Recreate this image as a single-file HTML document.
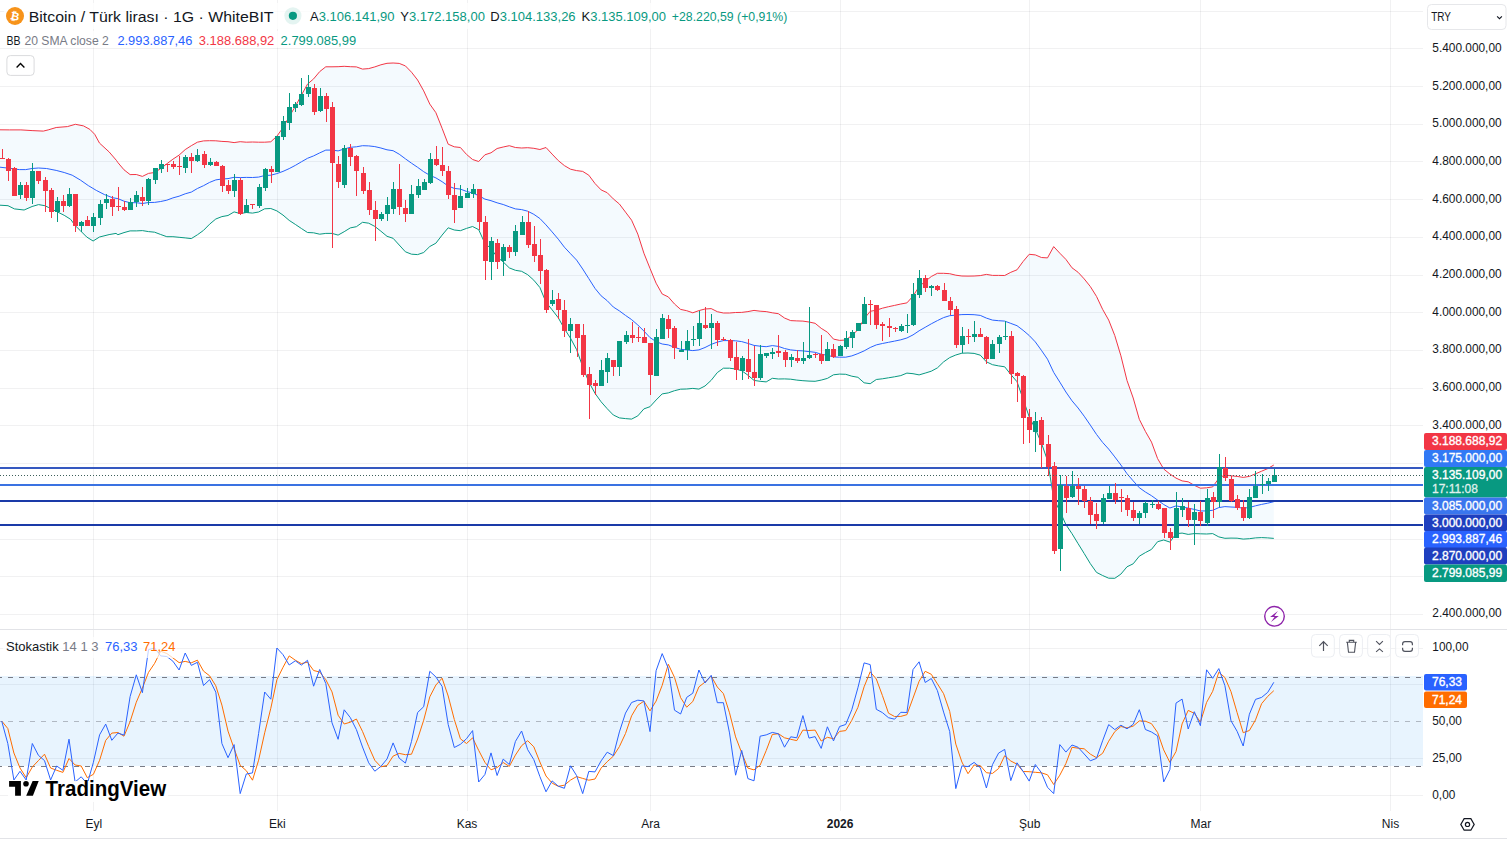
<!DOCTYPE html>
<html><head><meta charset="utf-8"><style>
html,body{margin:0;padding:0;background:#fff;}
body{width:1507px;height:841px;overflow:hidden;}
svg{display:block;font-family:"Liberation Sans", sans-serif;}
</style></head><body>
<svg width="1507" height="841" viewBox="0 0 1507 841" shape-rendering="crispEdges">
<rect width="1507" height="841" fill="#fff"/>
<g>
<g fill="#2a2e39" fill-opacity="0.065">
<rect x="0" y="11" width="1423" height="1"/>
<rect x="0" y="48" width="1423" height="1"/>
<rect x="0" y="86" width="1423" height="1"/>
<rect x="0" y="124" width="1423" height="1"/>
<rect x="0" y="161" width="1423" height="1"/>
<rect x="0" y="199" width="1423" height="1"/>
<rect x="0" y="237" width="1423" height="1"/>
<rect x="0" y="275" width="1423" height="1"/>
<rect x="0" y="312" width="1423" height="1"/>
<rect x="0" y="350" width="1423" height="1"/>
<rect x="0" y="388" width="1423" height="1"/>
<rect x="0" y="425" width="1423" height="1"/>
<rect x="0" y="463" width="1423" height="1"/>
<rect x="0" y="501" width="1423" height="1"/>
<rect x="0" y="539" width="1423" height="1"/>
<rect x="0" y="576" width="1423" height="1"/>
<rect x="0" y="614" width="1423" height="1"/>
<rect x="93" y="0" width="1" height="629"/>
<rect x="93" y="630" width="1" height="181"/>
<rect x="277" y="0" width="1" height="629"/>
<rect x="277" y="630" width="1" height="181"/>
<rect x="467" y="0" width="1" height="629"/>
<rect x="467" y="630" width="1" height="181"/>
<rect x="650" y="0" width="1" height="629"/>
<rect x="650" y="630" width="1" height="181"/>
<rect x="840" y="0" width="1" height="629"/>
<rect x="840" y="630" width="1" height="181"/>
<rect x="1029" y="0" width="1" height="629"/>
<rect x="1029" y="630" width="1" height="181"/>
<rect x="1200" y="0" width="1" height="629"/>
<rect x="1200" y="630" width="1" height="181"/>
<rect x="1390" y="0" width="1" height="629"/>
<rect x="1390" y="630" width="1" height="181"/>
<rect x="0" y="648" width="1423" height="1"/>
<rect x="0" y="684" width="1423" height="1"/>
<rect x="0" y="758" width="1423" height="1"/>
<rect x="0" y="795" width="1423" height="1"/>
</g>
<polygon shape-rendering="auto" points="0.0,129.8 9.6,129.9 20.9,129.9 32.1,130.6 43.3,131.1 48.2,129.9 56.2,127.5 67.4,126.6 75.4,124.3 83.5,125.9 89.9,129.4 94.7,134.3 99.5,143.1 109.1,151.9 116.5,160.5 117.9,162.6 124.0,169.8 130.1,174.6 136.3,174.5 142.4,176.4 148.5,173.4 154.6,172.5 160.7,168.6 166.8,163.8 172.9,159.2 179.1,155.1 185.2,149.6 191.3,145.7 197.4,142.2 203.5,140.9 209.6,140.7 215.8,140.8 221.9,141.4 228.0,141.7 234.1,142.6 240.2,141.7 246.3,142.2 252.5,142.0 258.6,142.2 264.7,142.2 270.8,141.8 276.9,136.2 283.0,127.7 289.2,116.7 295.3,106.4 301.4,95.2 307.5,84.1 313.6,78.9 319.7,71.6 325.8,66.8 332.0,66.8 338.1,66.7 344.2,66.3 350.3,66.7 356.4,66.9 362.5,69.1 368.7,68.6 374.8,66.9 380.9,64.8 387.0,63.3 393.1,63.0 399.2,63.4 405.4,65.9 411.5,72.2 417.6,80.0 423.7,90.9 429.8,104.1 435.9,112.7 442.1,128.3 448.2,144.2 454.3,146.8 460.4,147.5 466.5,154.4 472.6,159.5 478.7,161.5 484.9,154.8 491.0,152.8 497.1,148.5 503.2,147.0 509.3,145.7 515.4,147.5 521.6,148.0 527.7,147.7 533.8,148.3 539.9,149.5 546.0,147.5 552.1,154.1 558.3,160.6 564.4,165.6 570.5,169.2 576.6,170.6 582.7,171.4 588.8,175.2 595.0,183.5 601.1,189.9 607.2,192.7 613.3,198.9 619.4,204.0 625.5,212.1 631.6,220.2 637.8,234.1 643.9,253.2 650.0,268.4 656.1,283.2 662.2,294.0 668.3,296.9 674.5,304.0 680.6,309.4 686.7,310.7 692.8,312.8 698.9,310.6 705.0,309.0 711.2,308.6 717.3,311.7 723.4,313.0 729.5,313.0 735.6,312.5 741.7,312.4 747.9,311.6 754.0,310.4 760.1,311.2 766.2,311.6 772.3,312.8 778.4,313.7 784.5,318.0 790.7,320.6 796.8,320.9 802.9,321.1 809.0,322.0 815.1,323.3 821.2,328.3 827.4,332.2 833.5,339.1 839.6,340.4 845.7,340.0 851.8,335.5 857.9,329.8 864.1,318.9 870.2,311.3 876.3,310.2 882.4,308.2 888.5,306.7 894.6,305.4 900.8,304.0 906.9,302.9 913.0,296.1 919.1,286.6 925.2,281.4 931.3,276.5 937.4,273.3 943.6,273.3 949.7,273.7 955.8,275.2 961.9,276.0 968.0,276.1 974.1,276.0 980.3,275.6 986.4,274.4 992.5,275.4 998.6,275.4 1004.7,275.5 1010.8,272.3 1017.0,269.8 1023.1,261.5 1029.2,254.3 1035.3,254.9 1041.4,257.5 1047.5,257.9 1053.7,246.6 1059.8,253.2 1065.9,259.4 1072.0,267.8 1078.1,272.3 1084.2,278.9 1090.3,286.5 1096.5,296.4 1102.6,309.3 1108.7,320.1 1114.8,335.6 1120.9,355.8 1127.0,380.5 1133.2,398.0 1139.3,419.3 1145.4,431.4 1151.5,442.1 1157.6,458.6 1163.7,469.0 1169.9,474.0 1176.0,478.1 1182.1,480.9 1188.2,481.8 1194.3,485.3 1200.4,488.2 1206.6,487.8 1212.7,486.9 1218.8,478.3 1224.9,474.9 1231.0,475.8 1237.1,476.4 1243.2,477.4 1249.4,476.4 1255.5,473.8 1261.6,471.2 1267.7,468.6 1273.8,465.0 1273.8,538.4 1267.7,537.9 1261.6,537.6 1255.5,537.9 1249.4,538.7 1243.2,539.1 1237.1,538.2 1231.0,538.1 1224.9,538.3 1218.8,536.9 1212.7,533.6 1206.6,534.0 1200.4,533.8 1194.3,533.6 1188.2,534.4 1182.1,533.1 1176.0,533.7 1169.9,542.1 1163.7,540.0 1157.6,541.7 1151.5,549.4 1145.4,552.6 1139.3,556.2 1133.2,563.8 1127.0,566.8 1120.9,574.1 1114.8,578.3 1108.7,578.2 1102.6,575.5 1096.5,572.4 1090.3,563.6 1084.2,553.5 1078.1,543.7 1072.0,533.7 1065.9,524.6 1059.8,511.1 1053.7,498.3 1047.5,460.5 1041.4,443.0 1035.3,428.9 1029.2,416.8 1023.1,399.1 1017.0,381.7 1010.8,374.5 1004.7,366.8 998.6,365.9 992.5,364.7 986.4,361.8 980.3,355.2 974.1,353.4 968.0,353.0 961.9,353.2 955.8,355.0 949.7,357.6 943.6,361.9 937.4,367.9 931.3,371.2 925.2,373.1 919.1,374.9 913.0,373.7 906.9,373.1 900.8,375.6 894.6,376.8 888.5,377.8 882.4,378.8 876.3,379.5 870.2,383.7 864.1,382.8 857.9,377.3 851.8,376.2 845.7,374.3 839.6,374.1 833.5,374.8 827.4,378.4 821.2,380.1 815.1,381.3 809.0,381.1 802.9,380.7 796.8,380.1 790.7,379.2 784.5,378.9 778.4,379.0 772.3,378.3 766.2,381.9 760.1,381.3 754.0,380.4 747.9,375.2 741.7,370.7 735.6,369.0 729.5,368.2 723.4,368.2 717.3,372.6 711.2,380.3 705.0,386.0 698.9,389.1 692.8,388.4 686.7,389.0 680.6,389.2 674.5,390.7 668.3,392.9 662.2,393.9 656.1,400.0 650.0,406.7 643.9,408.9 637.8,415.9 631.6,419.1 625.5,418.6 619.4,417.9 613.3,415.0 607.2,408.7 601.1,401.8 595.0,393.3 588.8,382.0 582.7,366.6 576.6,349.6 570.5,338.2 564.4,328.8 558.3,317.8 552.1,309.8 546.0,302.3 539.9,287.5 533.8,280.2 527.7,274.7 521.6,271.3 515.4,270.3 509.3,267.9 503.2,261.9 497.1,257.1 491.0,248.5 484.9,243.4 478.7,229.7 472.6,226.5 466.5,228.4 460.4,230.7 454.3,230.0 448.2,227.8 442.1,235.1 435.9,243.2 429.8,246.5 423.7,252.5 417.6,254.6 411.5,254.2 405.4,251.8 399.2,245.0 393.1,238.3 387.0,236.3 380.9,231.2 374.8,226.4 368.7,223.2 362.5,222.3 356.4,226.7 350.3,227.9 344.2,231.7 338.1,235.1 332.0,233.4 325.8,233.4 319.7,234.2 313.6,232.8 307.5,232.5 301.4,228.5 295.3,224.4 289.2,220.4 283.0,215.1 276.9,210.9 270.8,208.5 264.7,208.8 258.6,212.0 252.5,213.1 246.3,212.5 240.2,213.6 234.1,211.9 228.0,215.5 221.9,216.6 215.8,219.0 209.6,224.2 203.5,230.4 197.4,234.8 191.3,238.6 185.2,237.9 179.1,237.3 172.9,236.7 166.8,236.7 160.7,234.5 154.6,232.2 148.5,231.6 142.4,230.6 136.3,230.9 130.1,230.9 124.0,232.6 117.9,234.7 116.0,233.4 109.1,234.6 99.5,237.0 93.1,241.0 86.7,237.0 80.3,230.6 75.4,225.8 70.6,219.3 64.2,215.3 56.2,211.3 48.2,207.3 44.9,205.7 38.5,204.6 32.1,206.5 24.1,210.0 14.4,208.9 8.0,205.7 0.0,205.2" fill="#2196f3" fill-opacity="0.05"/>
<polyline shape-rendering="auto" points="0.0,129.8 9.6,129.9 20.9,129.9 32.1,130.6 43.3,131.1 48.2,129.9 56.2,127.5 67.4,126.6 75.4,124.3 83.5,125.9 89.9,129.4 94.7,134.3 99.5,143.1 109.1,151.9 116.5,160.5 117.9,162.6 124.0,169.8 130.1,174.6 136.3,174.5 142.4,176.4 148.5,173.4 154.6,172.5 160.7,168.6 166.8,163.8 172.9,159.2 179.1,155.1 185.2,149.6 191.3,145.7 197.4,142.2 203.5,140.9 209.6,140.7 215.8,140.8 221.9,141.4 228.0,141.7 234.1,142.6 240.2,141.7 246.3,142.2 252.5,142.0 258.6,142.2 264.7,142.2 270.8,141.8 276.9,136.2 283.0,127.7 289.2,116.7 295.3,106.4 301.4,95.2 307.5,84.1 313.6,78.9 319.7,71.6 325.8,66.8 332.0,66.8 338.1,66.7 344.2,66.3 350.3,66.7 356.4,66.9 362.5,69.1 368.7,68.6 374.8,66.9 380.9,64.8 387.0,63.3 393.1,63.0 399.2,63.4 405.4,65.9 411.5,72.2 417.6,80.0 423.7,90.9 429.8,104.1 435.9,112.7 442.1,128.3 448.2,144.2 454.3,146.8 460.4,147.5 466.5,154.4 472.6,159.5 478.7,161.5 484.9,154.8 491.0,152.8 497.1,148.5 503.2,147.0 509.3,145.7 515.4,147.5 521.6,148.0 527.7,147.7 533.8,148.3 539.9,149.5 546.0,147.5 552.1,154.1 558.3,160.6 564.4,165.6 570.5,169.2 576.6,170.6 582.7,171.4 588.8,175.2 595.0,183.5 601.1,189.9 607.2,192.7 613.3,198.9 619.4,204.0 625.5,212.1 631.6,220.2 637.8,234.1 643.9,253.2 650.0,268.4 656.1,283.2 662.2,294.0 668.3,296.9 674.5,304.0 680.6,309.4 686.7,310.7 692.8,312.8 698.9,310.6 705.0,309.0 711.2,308.6 717.3,311.7 723.4,313.0 729.5,313.0 735.6,312.5 741.7,312.4 747.9,311.6 754.0,310.4 760.1,311.2 766.2,311.6 772.3,312.8 778.4,313.7 784.5,318.0 790.7,320.6 796.8,320.9 802.9,321.1 809.0,322.0 815.1,323.3 821.2,328.3 827.4,332.2 833.5,339.1 839.6,340.4 845.7,340.0 851.8,335.5 857.9,329.8 864.1,318.9 870.2,311.3 876.3,310.2 882.4,308.2 888.5,306.7 894.6,305.4 900.8,304.0 906.9,302.9 913.0,296.1 919.1,286.6 925.2,281.4 931.3,276.5 937.4,273.3 943.6,273.3 949.7,273.7 955.8,275.2 961.9,276.0 968.0,276.1 974.1,276.0 980.3,275.6 986.4,274.4 992.5,275.4 998.6,275.4 1004.7,275.5 1010.8,272.3 1017.0,269.8 1023.1,261.5 1029.2,254.3 1035.3,254.9 1041.4,257.5 1047.5,257.9 1053.7,246.6 1059.8,253.2 1065.9,259.4 1072.0,267.8 1078.1,272.3 1084.2,278.9 1090.3,286.5 1096.5,296.4 1102.6,309.3 1108.7,320.1 1114.8,335.6 1120.9,355.8 1127.0,380.5 1133.2,398.0 1139.3,419.3 1145.4,431.4 1151.5,442.1 1157.6,458.6 1163.7,469.0 1169.9,474.0 1176.0,478.1 1182.1,480.9 1188.2,481.8 1194.3,485.3 1200.4,488.2 1206.6,487.8 1212.7,486.9 1218.8,478.3 1224.9,474.9 1231.0,475.8 1237.1,476.4 1243.2,477.4 1249.4,476.4 1255.5,473.8 1261.6,471.2 1267.7,468.6 1273.8,465.0" fill="none" stroke="#f23645" stroke-width="1"/>
<polyline shape-rendering="auto" points="0.0,167.2 9.6,168.3 19.3,169.6 25.7,169.6 32.1,168.5 38.5,168.0 46.5,168.5 56.2,170.4 64.2,172.5 72.2,175.2 80.3,180.0 88.3,185.6 96.3,190.4 104.3,194.5 112.4,197.7 117.9,198.6 124.0,201.2 130.1,202.7 136.3,202.7 142.4,203.5 148.5,202.5 154.6,202.4 160.7,201.5 166.8,200.2 172.9,197.9 179.1,196.2 185.2,193.8 191.3,192.1 197.4,188.5 203.5,185.7 209.6,182.4 215.8,179.9 221.9,179.0 228.0,178.6 234.1,177.3 240.2,177.6 246.3,177.4 252.5,177.5 258.6,177.1 264.7,175.5 270.8,175.2 276.9,173.6 283.0,171.4 289.2,168.6 295.3,165.4 301.4,161.8 307.5,158.3 313.6,155.9 319.7,152.9 325.8,150.1 332.0,150.1 338.1,150.9 344.2,149.0 350.3,147.3 356.4,146.8 362.5,145.7 368.7,145.9 374.8,146.6 380.9,148.0 387.0,149.8 393.1,150.7 399.2,154.2 405.4,158.8 411.5,163.2 417.6,167.3 423.7,171.7 429.8,175.3 435.9,177.9 442.1,181.7 448.2,186.0 454.3,188.4 460.4,189.1 466.5,191.4 472.6,193.0 478.7,195.6 484.9,199.1 491.0,200.7 497.1,202.8 503.2,204.5 509.3,206.8 515.4,208.9 521.6,209.6 527.7,211.2 533.8,214.3 539.9,218.5 546.0,224.9 552.1,231.9 558.3,239.2 564.4,247.2 570.5,253.7 576.6,260.1 582.7,269.0 588.8,278.6 595.0,288.4 601.1,295.8 607.2,300.7 613.3,307.0 619.4,310.9 625.5,315.4 631.6,319.6 637.8,325.0 643.9,331.0 650.0,337.6 656.1,341.6 662.2,344.0 668.3,344.9 674.5,347.3 680.6,349.3 686.7,349.9 692.8,350.6 698.9,349.9 705.0,347.5 711.2,344.4 717.3,342.1 723.4,340.6 729.5,340.6 735.6,340.8 741.7,341.6 747.9,343.4 754.0,345.4 760.1,346.2 766.2,346.7 772.3,345.6 778.4,346.4 784.5,348.5 790.7,349.9 796.8,350.5 802.9,350.9 809.0,351.6 815.1,352.3 821.2,354.2 827.4,355.3 833.5,356.9 839.6,357.2 845.7,357.2 851.8,355.9 857.9,353.6 864.1,350.9 870.2,347.5 876.3,344.9 882.4,343.5 888.5,342.3 894.6,341.1 900.8,339.8 906.9,338.0 913.0,334.9 919.1,330.8 925.2,327.3 931.3,323.8 937.4,320.6 943.6,317.6 949.7,315.7 955.8,315.1 961.9,314.6 968.0,314.5 974.1,314.7 980.3,315.4 986.4,318.1 992.5,320.1 998.6,320.7 1004.7,321.1 1010.8,323.4 1017.0,325.7 1023.1,330.3 1029.2,335.5 1035.3,341.9 1041.4,350.3 1047.5,359.2 1053.7,372.4 1059.8,382.1 1065.9,392.0 1072.0,400.8 1078.1,408.0 1084.2,416.2 1090.3,425.1 1096.5,434.4 1102.6,442.4 1108.7,449.1 1114.8,456.9 1120.9,465.0 1127.0,473.7 1133.2,480.9 1139.3,487.7 1145.4,492.0 1151.5,495.7 1157.6,500.1 1163.7,504.5 1169.9,508.0 1176.0,505.9 1182.1,507.0 1188.2,508.1 1194.3,509.4 1200.4,511.0 1206.6,510.9 1212.7,510.3 1218.8,507.6 1224.9,506.6 1231.0,507.0 1237.1,507.3 1243.2,508.2 1249.4,507.5 1255.5,505.8 1261.6,504.4 1267.7,503.2 1273.8,501.7" fill="none" stroke="#2962ff" stroke-width="1"/>
<polyline shape-rendering="auto" points="0.0,205.2 8.0,205.7 14.4,208.9 24.1,210.0 32.1,206.5 38.5,204.6 44.9,205.7 48.2,207.3 56.2,211.3 64.2,215.3 70.6,219.3 75.4,225.8 80.3,230.6 86.7,237.0 93.1,241.0 99.5,237.0 109.1,234.6 116.0,233.4 117.9,234.7 124.0,232.6 130.1,230.9 136.3,230.9 142.4,230.6 148.5,231.6 154.6,232.2 160.7,234.5 166.8,236.7 172.9,236.7 179.1,237.3 185.2,237.9 191.3,238.6 197.4,234.8 203.5,230.4 209.6,224.2 215.8,219.0 221.9,216.6 228.0,215.5 234.1,211.9 240.2,213.6 246.3,212.5 252.5,213.1 258.6,212.0 264.7,208.8 270.8,208.5 276.9,210.9 283.0,215.1 289.2,220.4 295.3,224.4 301.4,228.5 307.5,232.5 313.6,232.8 319.7,234.2 325.8,233.4 332.0,233.4 338.1,235.1 344.2,231.7 350.3,227.9 356.4,226.7 362.5,222.3 368.7,223.2 374.8,226.4 380.9,231.2 387.0,236.3 393.1,238.3 399.2,245.0 405.4,251.8 411.5,254.2 417.6,254.6 423.7,252.5 429.8,246.5 435.9,243.2 442.1,235.1 448.2,227.8 454.3,230.0 460.4,230.7 466.5,228.4 472.6,226.5 478.7,229.7 484.9,243.4 491.0,248.5 497.1,257.1 503.2,261.9 509.3,267.9 515.4,270.3 521.6,271.3 527.7,274.7 533.8,280.2 539.9,287.5 546.0,302.3 552.1,309.8 558.3,317.8 564.4,328.8 570.5,338.2 576.6,349.6 582.7,366.6 588.8,382.0 595.0,393.3 601.1,401.8 607.2,408.7 613.3,415.0 619.4,417.9 625.5,418.6 631.6,419.1 637.8,415.9 643.9,408.9 650.0,406.7 656.1,400.0 662.2,393.9 668.3,392.9 674.5,390.7 680.6,389.2 686.7,389.0 692.8,388.4 698.9,389.1 705.0,386.0 711.2,380.3 717.3,372.6 723.4,368.2 729.5,368.2 735.6,369.0 741.7,370.7 747.9,375.2 754.0,380.4 760.1,381.3 766.2,381.9 772.3,378.3 778.4,379.0 784.5,378.9 790.7,379.2 796.8,380.1 802.9,380.7 809.0,381.1 815.1,381.3 821.2,380.1 827.4,378.4 833.5,374.8 839.6,374.1 845.7,374.3 851.8,376.2 857.9,377.3 864.1,382.8 870.2,383.7 876.3,379.5 882.4,378.8 888.5,377.8 894.6,376.8 900.8,375.6 906.9,373.1 913.0,373.7 919.1,374.9 925.2,373.1 931.3,371.2 937.4,367.9 943.6,361.9 949.7,357.6 955.8,355.0 961.9,353.2 968.0,353.0 974.1,353.4 980.3,355.2 986.4,361.8 992.5,364.7 998.6,365.9 1004.7,366.8 1010.8,374.5 1017.0,381.7 1023.1,399.1 1029.2,416.8 1035.3,428.9 1041.4,443.0 1047.5,460.5 1053.7,498.3 1059.8,511.1 1065.9,524.6 1072.0,533.7 1078.1,543.7 1084.2,553.5 1090.3,563.6 1096.5,572.4 1102.6,575.5 1108.7,578.2 1114.8,578.3 1120.9,574.1 1127.0,566.8 1133.2,563.8 1139.3,556.2 1145.4,552.6 1151.5,549.4 1157.6,541.7 1163.7,540.0 1169.9,542.1 1176.0,533.7 1182.1,533.1 1188.2,534.4 1194.3,533.6 1200.4,533.8 1206.6,534.0 1212.7,533.6 1218.8,536.9 1224.9,538.3 1231.0,538.1 1237.1,538.2 1243.2,539.1 1249.4,538.7 1255.5,537.9 1261.6,537.6 1267.7,537.9 1273.8,538.4" fill="none" stroke="#089981" stroke-width="1"/>
<rect x="0" y="467" width="1423" height="2" fill="#3558c0"/>
<rect x="0" y="484" width="1423" height="2" fill="#3a72e2"/>
<rect x="0" y="500" width="1423" height="2" fill="#1a3aa8"/>
<rect x="0" y="524" width="1423" height="2" fill="#1a3aa8"/>
<rect x="2" y="149" width="1" height="10" fill="#f23645"/>
<rect x="0" y="158" width="5" height="1" fill="#f23645"/>
<rect x="8" y="158" width="1" height="23" fill="#f23645"/>
<rect x="6" y="159" width="5" height="12" fill="#f23645"/>
<rect x="14" y="167" width="1" height="29" fill="#f23645"/>
<rect x="12" y="168" width="5" height="28" fill="#f23645"/>
<rect x="20" y="182" width="1" height="17" fill="#089981"/>
<rect x="18" y="185" width="5" height="10" fill="#089981"/>
<rect x="26" y="182" width="1" height="19" fill="#f23645"/>
<rect x="24" y="185" width="5" height="13" fill="#f23645"/>
<rect x="32" y="163" width="1" height="41" fill="#089981"/>
<rect x="30" y="171" width="5" height="27" fill="#089981"/>
<rect x="38" y="171" width="1" height="13" fill="#f23645"/>
<rect x="36" y="171" width="5" height="10" fill="#f23645"/>
<rect x="45" y="177" width="1" height="35" fill="#f23645"/>
<rect x="43" y="180" width="5" height="11" fill="#f23645"/>
<rect x="51" y="188" width="1" height="30" fill="#f23645"/>
<rect x="49" y="190" width="5" height="22" fill="#f23645"/>
<rect x="57" y="197" width="1" height="25" fill="#089981"/>
<rect x="55" y="201" width="5" height="11" fill="#089981"/>
<rect x="63" y="195" width="1" height="17" fill="#f23645"/>
<rect x="61" y="201" width="5" height="5" fill="#f23645"/>
<rect x="69" y="188" width="1" height="19" fill="#089981"/>
<rect x="67" y="194" width="5" height="12" fill="#089981"/>
<rect x="75" y="194" width="1" height="38" fill="#f23645"/>
<rect x="73" y="194" width="5" height="32" fill="#f23645"/>
<rect x="81" y="221" width="1" height="11" fill="#089981"/>
<rect x="79" y="222" width="5" height="4" fill="#089981"/>
<rect x="87" y="216" width="1" height="10" fill="#f23645"/>
<rect x="85" y="220" width="5" height="6" fill="#f23645"/>
<rect x="93" y="213" width="1" height="19" fill="#089981"/>
<rect x="91" y="217" width="5" height="9" fill="#089981"/>
<rect x="100" y="200" width="1" height="25" fill="#089981"/>
<rect x="98" y="204" width="5" height="14" fill="#089981"/>
<rect x="106" y="194" width="1" height="15" fill="#089981"/>
<rect x="104" y="199" width="5" height="4" fill="#089981"/>
<rect x="112" y="196" width="1" height="20" fill="#f23645"/>
<rect x="110" y="199" width="5" height="8" fill="#f23645"/>
<rect x="118" y="187" width="1" height="24" fill="#f23645"/>
<rect x="116" y="206" width="5" height="1" fill="#f23645"/>
<rect x="124" y="201" width="1" height="10" fill="#f23645"/>
<rect x="122" y="207" width="5" height="3" fill="#f23645"/>
<rect x="130" y="198" width="1" height="12" fill="#089981"/>
<rect x="128" y="202" width="5" height="8" fill="#089981"/>
<rect x="136" y="191" width="1" height="16" fill="#089981"/>
<rect x="134" y="195" width="5" height="7" fill="#089981"/>
<rect x="142" y="187" width="1" height="19" fill="#f23645"/>
<rect x="140" y="197" width="5" height="4" fill="#f23645"/>
<rect x="148" y="178" width="1" height="27" fill="#089981"/>
<rect x="146" y="179" width="5" height="22" fill="#089981"/>
<rect x="155" y="168" width="1" height="16" fill="#089981"/>
<rect x="153" y="168" width="5" height="12" fill="#089981"/>
<rect x="161" y="160" width="1" height="13" fill="#089981"/>
<rect x="159" y="164" width="5" height="5" fill="#089981"/>
<rect x="167" y="164" width="1" height="8" fill="#f23645"/>
<rect x="165" y="164" width="5" height="1" fill="#f23645"/>
<rect x="173" y="161" width="1" height="8" fill="#f23645"/>
<rect x="171" y="164" width="5" height="3" fill="#f23645"/>
<rect x="179" y="156" width="1" height="19" fill="#f23645"/>
<rect x="177" y="166" width="5" height="1" fill="#f23645"/>
<rect x="185" y="155" width="1" height="18" fill="#089981"/>
<rect x="183" y="157" width="5" height="11" fill="#089981"/>
<rect x="191" y="153" width="1" height="20" fill="#f23645"/>
<rect x="189" y="157" width="5" height="4" fill="#f23645"/>
<rect x="197" y="149" width="1" height="13" fill="#089981"/>
<rect x="195" y="155" width="5" height="6" fill="#089981"/>
<rect x="204" y="151" width="1" height="17" fill="#f23645"/>
<rect x="202" y="154" width="5" height="11" fill="#f23645"/>
<rect x="210" y="158" width="1" height="8" fill="#089981"/>
<rect x="208" y="162" width="5" height="3" fill="#089981"/>
<rect x="216" y="161" width="1" height="5" fill="#f23645"/>
<rect x="214" y="162" width="5" height="4" fill="#f23645"/>
<rect x="222" y="165" width="1" height="27" fill="#f23645"/>
<rect x="220" y="166" width="5" height="20" fill="#f23645"/>
<rect x="228" y="180" width="1" height="14" fill="#f23645"/>
<rect x="226" y="185" width="5" height="6" fill="#f23645"/>
<rect x="234" y="174" width="1" height="23" fill="#089981"/>
<rect x="232" y="180" width="5" height="11" fill="#089981"/>
<rect x="240" y="178" width="1" height="37" fill="#f23645"/>
<rect x="238" y="180" width="5" height="34" fill="#f23645"/>
<rect x="246" y="199" width="1" height="14" fill="#089981"/>
<rect x="244" y="205" width="5" height="8" fill="#089981"/>
<rect x="252" y="204" width="1" height="5" fill="#f23645"/>
<rect x="250" y="204" width="5" height="1" fill="#f23645"/>
<rect x="259" y="184" width="1" height="24" fill="#089981"/>
<rect x="257" y="187" width="5" height="19" fill="#089981"/>
<rect x="265" y="168" width="1" height="23" fill="#089981"/>
<rect x="263" y="169" width="5" height="19" fill="#089981"/>
<rect x="271" y="166" width="1" height="17" fill="#f23645"/>
<rect x="269" y="169" width="5" height="3" fill="#f23645"/>
<rect x="277" y="136" width="1" height="36" fill="#089981"/>
<rect x="275" y="136" width="5" height="36" fill="#089981"/>
<rect x="283" y="116" width="1" height="24" fill="#089981"/>
<rect x="281" y="121" width="5" height="16" fill="#089981"/>
<rect x="289" y="93" width="1" height="37" fill="#089981"/>
<rect x="287" y="107" width="5" height="16" fill="#089981"/>
<rect x="295" y="102" width="1" height="10" fill="#089981"/>
<rect x="293" y="104" width="5" height="4" fill="#089981"/>
<rect x="301" y="78" width="1" height="28" fill="#089981"/>
<rect x="299" y="94" width="5" height="11" fill="#089981"/>
<rect x="308" y="75" width="1" height="22" fill="#089981"/>
<rect x="306" y="87" width="5" height="7" fill="#089981"/>
<rect x="314" y="84" width="1" height="31" fill="#f23645"/>
<rect x="312" y="88" width="5" height="24" fill="#f23645"/>
<rect x="320" y="88" width="1" height="24" fill="#089981"/>
<rect x="318" y="96" width="5" height="15" fill="#089981"/>
<rect x="326" y="93" width="1" height="29" fill="#f23645"/>
<rect x="324" y="96" width="5" height="13" fill="#f23645"/>
<rect x="332" y="102" width="1" height="146" fill="#f23645"/>
<rect x="330" y="107" width="5" height="56" fill="#f23645"/>
<rect x="338" y="156" width="1" height="32" fill="#f23645"/>
<rect x="336" y="164" width="5" height="18" fill="#f23645"/>
<rect x="344" y="145" width="1" height="43" fill="#089981"/>
<rect x="342" y="148" width="5" height="37" fill="#089981"/>
<rect x="350" y="144" width="1" height="22" fill="#f23645"/>
<rect x="348" y="148" width="5" height="9" fill="#f23645"/>
<rect x="356" y="155" width="1" height="41" fill="#f23645"/>
<rect x="354" y="156" width="5" height="15" fill="#f23645"/>
<rect x="363" y="167" width="1" height="27" fill="#f23645"/>
<rect x="361" y="173" width="5" height="18" fill="#f23645"/>
<rect x="369" y="182" width="1" height="33" fill="#f23645"/>
<rect x="367" y="190" width="5" height="20" fill="#f23645"/>
<rect x="375" y="201" width="1" height="40" fill="#f23645"/>
<rect x="373" y="210" width="5" height="9" fill="#f23645"/>
<rect x="381" y="212" width="1" height="9" fill="#089981"/>
<rect x="379" y="214" width="5" height="5" fill="#089981"/>
<rect x="387" y="197" width="1" height="24" fill="#089981"/>
<rect x="385" y="205" width="5" height="9" fill="#089981"/>
<rect x="393" y="182" width="1" height="32" fill="#089981"/>
<rect x="391" y="189" width="5" height="20" fill="#089981"/>
<rect x="399" y="164" width="1" height="51" fill="#f23645"/>
<rect x="397" y="189" width="5" height="18" fill="#f23645"/>
<rect x="405" y="200" width="1" height="22" fill="#f23645"/>
<rect x="403" y="208" width="5" height="6" fill="#f23645"/>
<rect x="411" y="185" width="1" height="29" fill="#089981"/>
<rect x="409" y="194" width="5" height="20" fill="#089981"/>
<rect x="418" y="179" width="1" height="19" fill="#089981"/>
<rect x="416" y="186" width="5" height="9" fill="#089981"/>
<rect x="424" y="179" width="1" height="11" fill="#089981"/>
<rect x="422" y="182" width="5" height="8" fill="#089981"/>
<rect x="430" y="153" width="1" height="31" fill="#089981"/>
<rect x="428" y="159" width="5" height="24" fill="#089981"/>
<rect x="436" y="146" width="1" height="20" fill="#f23645"/>
<rect x="434" y="159" width="5" height="6" fill="#f23645"/>
<rect x="442" y="147" width="1" height="29" fill="#f23645"/>
<rect x="440" y="165" width="5" height="6" fill="#f23645"/>
<rect x="448" y="166" width="1" height="33" fill="#f23645"/>
<rect x="446" y="171" width="5" height="24" fill="#f23645"/>
<rect x="454" y="183" width="1" height="40" fill="#f23645"/>
<rect x="452" y="195" width="5" height="15" fill="#f23645"/>
<rect x="460" y="185" width="1" height="23" fill="#089981"/>
<rect x="458" y="196" width="5" height="12" fill="#089981"/>
<rect x="467" y="188" width="1" height="10" fill="#089981"/>
<rect x="465" y="193" width="5" height="5" fill="#089981"/>
<rect x="473" y="184" width="1" height="14" fill="#089981"/>
<rect x="471" y="189" width="5" height="5" fill="#089981"/>
<rect x="479" y="189" width="1" height="41" fill="#f23645"/>
<rect x="477" y="189" width="5" height="33" fill="#f23645"/>
<rect x="485" y="216" width="1" height="64" fill="#f23645"/>
<rect x="483" y="222" width="5" height="39" fill="#f23645"/>
<rect x="491" y="237" width="1" height="43" fill="#089981"/>
<rect x="489" y="241" width="5" height="21" fill="#089981"/>
<rect x="497" y="239" width="1" height="30" fill="#f23645"/>
<rect x="495" y="243" width="5" height="19" fill="#f23645"/>
<rect x="503" y="244" width="1" height="32" fill="#089981"/>
<rect x="501" y="247" width="5" height="14" fill="#089981"/>
<rect x="509" y="245" width="1" height="13" fill="#f23645"/>
<rect x="507" y="247" width="5" height="5" fill="#f23645"/>
<rect x="515" y="225" width="1" height="31" fill="#089981"/>
<rect x="513" y="231" width="5" height="21" fill="#089981"/>
<rect x="522" y="216" width="1" height="19" fill="#089981"/>
<rect x="520" y="222" width="5" height="13" fill="#089981"/>
<rect x="528" y="211" width="1" height="37" fill="#f23645"/>
<rect x="526" y="222" width="5" height="23" fill="#f23645"/>
<rect x="534" y="226" width="1" height="36" fill="#f23645"/>
<rect x="532" y="244" width="5" height="12" fill="#f23645"/>
<rect x="540" y="239" width="1" height="45" fill="#f23645"/>
<rect x="538" y="255" width="5" height="16" fill="#f23645"/>
<rect x="546" y="269" width="1" height="44" fill="#f23645"/>
<rect x="544" y="270" width="5" height="40" fill="#f23645"/>
<rect x="552" y="290" width="1" height="16" fill="#089981"/>
<rect x="550" y="300" width="5" height="4" fill="#089981"/>
<rect x="558" y="293" width="1" height="26" fill="#f23645"/>
<rect x="556" y="299" width="5" height="11" fill="#f23645"/>
<rect x="564" y="300" width="1" height="37" fill="#f23645"/>
<rect x="562" y="310" width="5" height="21" fill="#f23645"/>
<rect x="570" y="318" width="1" height="35" fill="#089981"/>
<rect x="568" y="324" width="5" height="7" fill="#089981"/>
<rect x="577" y="324" width="1" height="33" fill="#f23645"/>
<rect x="575" y="324" width="5" height="14" fill="#f23645"/>
<rect x="583" y="324" width="1" height="53" fill="#f23645"/>
<rect x="581" y="335" width="5" height="40" fill="#f23645"/>
<rect x="589" y="367" width="1" height="52" fill="#f23645"/>
<rect x="587" y="374" width="5" height="11" fill="#f23645"/>
<rect x="595" y="380" width="1" height="15" fill="#f23645"/>
<rect x="593" y="383" width="5" height="3" fill="#f23645"/>
<rect x="601" y="360" width="1" height="26" fill="#089981"/>
<rect x="599" y="370" width="5" height="16" fill="#089981"/>
<rect x="607" y="353" width="1" height="30" fill="#089981"/>
<rect x="605" y="358" width="5" height="14" fill="#089981"/>
<rect x="613" y="360" width="1" height="16" fill="#f23645"/>
<rect x="611" y="360" width="5" height="7" fill="#f23645"/>
<rect x="619" y="341" width="1" height="35" fill="#089981"/>
<rect x="617" y="341" width="5" height="26" fill="#089981"/>
<rect x="626" y="331" width="1" height="13" fill="#089981"/>
<rect x="624" y="335" width="5" height="7" fill="#089981"/>
<rect x="632" y="322" width="1" height="21" fill="#f23645"/>
<rect x="630" y="335" width="5" height="3" fill="#f23645"/>
<rect x="638" y="327" width="1" height="15" fill="#f23645"/>
<rect x="636" y="337" width="5" height="1" fill="#f23645"/>
<rect x="644" y="328" width="1" height="15" fill="#f23645"/>
<rect x="642" y="337" width="5" height="6" fill="#f23645"/>
<rect x="650" y="343" width="1" height="52" fill="#f23645"/>
<rect x="648" y="343" width="5" height="32" fill="#f23645"/>
<rect x="656" y="329" width="1" height="47" fill="#089981"/>
<rect x="654" y="337" width="5" height="39" fill="#089981"/>
<rect x="662" y="314" width="1" height="25" fill="#089981"/>
<rect x="660" y="318" width="5" height="21" fill="#089981"/>
<rect x="668" y="315" width="1" height="23" fill="#f23645"/>
<rect x="666" y="319" width="5" height="10" fill="#f23645"/>
<rect x="674" y="326" width="1" height="33" fill="#f23645"/>
<rect x="672" y="328" width="5" height="20" fill="#f23645"/>
<rect x="681" y="341" width="1" height="11" fill="#089981"/>
<rect x="679" y="350" width="5" height="2" fill="#089981"/>
<rect x="687" y="330" width="1" height="30" fill="#089981"/>
<rect x="685" y="341" width="5" height="9" fill="#089981"/>
<rect x="693" y="326" width="1" height="20" fill="#089981"/>
<rect x="691" y="339" width="5" height="1" fill="#089981"/>
<rect x="699" y="311" width="1" height="35" fill="#089981"/>
<rect x="697" y="323" width="5" height="16" fill="#089981"/>
<rect x="705" y="307" width="1" height="22" fill="#f23645"/>
<rect x="703" y="325" width="5" height="3" fill="#f23645"/>
<rect x="711" y="314" width="1" height="35" fill="#089981"/>
<rect x="709" y="323" width="5" height="5" fill="#089981"/>
<rect x="717" y="321" width="1" height="25" fill="#f23645"/>
<rect x="715" y="323" width="5" height="17" fill="#f23645"/>
<rect x="723" y="337" width="1" height="4" fill="#f23645"/>
<rect x="721" y="339" width="5" height="1" fill="#f23645"/>
<rect x="730" y="339" width="1" height="22" fill="#f23645"/>
<rect x="728" y="340" width="5" height="18" fill="#f23645"/>
<rect x="736" y="342" width="1" height="38" fill="#f23645"/>
<rect x="734" y="357" width="5" height="13" fill="#f23645"/>
<rect x="742" y="356" width="1" height="24" fill="#089981"/>
<rect x="740" y="358" width="5" height="13" fill="#089981"/>
<rect x="748" y="339" width="1" height="40" fill="#f23645"/>
<rect x="746" y="359" width="5" height="13" fill="#f23645"/>
<rect x="754" y="346" width="1" height="40" fill="#f23645"/>
<rect x="752" y="372" width="5" height="6" fill="#f23645"/>
<rect x="760" y="345" width="1" height="35" fill="#089981"/>
<rect x="758" y="354" width="5" height="24" fill="#089981"/>
<rect x="766" y="353" width="1" height="5" fill="#089981"/>
<rect x="764" y="353" width="5" height="3" fill="#089981"/>
<rect x="772" y="348" width="1" height="11" fill="#089981"/>
<rect x="770" y="352" width="5" height="2" fill="#089981"/>
<rect x="778" y="335" width="1" height="22" fill="#f23645"/>
<rect x="776" y="351" width="5" height="2" fill="#f23645"/>
<rect x="785" y="350" width="1" height="17" fill="#f23645"/>
<rect x="783" y="352" width="5" height="8" fill="#f23645"/>
<rect x="791" y="354" width="1" height="13" fill="#089981"/>
<rect x="789" y="357" width="5" height="3" fill="#089981"/>
<rect x="797" y="350" width="1" height="13" fill="#f23645"/>
<rect x="795" y="358" width="5" height="3" fill="#f23645"/>
<rect x="803" y="342" width="1" height="22" fill="#089981"/>
<rect x="801" y="358" width="5" height="3" fill="#089981"/>
<rect x="809" y="307" width="1" height="52" fill="#089981"/>
<rect x="807" y="355" width="5" height="3" fill="#089981"/>
<rect x="815" y="353" width="1" height="5" fill="#f23645"/>
<rect x="813" y="354" width="5" height="1" fill="#f23645"/>
<rect x="821" y="335" width="1" height="29" fill="#f23645"/>
<rect x="819" y="354" width="5" height="7" fill="#f23645"/>
<rect x="827" y="342" width="1" height="19" fill="#089981"/>
<rect x="825" y="349" width="5" height="12" fill="#089981"/>
<rect x="833" y="344" width="1" height="14" fill="#f23645"/>
<rect x="831" y="349" width="5" height="8" fill="#f23645"/>
<rect x="840" y="345" width="1" height="11" fill="#089981"/>
<rect x="838" y="346" width="5" height="10" fill="#089981"/>
<rect x="846" y="331" width="1" height="18" fill="#089981"/>
<rect x="844" y="338" width="5" height="9" fill="#089981"/>
<rect x="852" y="330" width="1" height="18" fill="#089981"/>
<rect x="850" y="332" width="5" height="6" fill="#089981"/>
<rect x="858" y="323" width="1" height="8" fill="#089981"/>
<rect x="856" y="323" width="5" height="8" fill="#089981"/>
<rect x="864" y="297" width="1" height="27" fill="#089981"/>
<rect x="862" y="304" width="5" height="20" fill="#089981"/>
<rect x="870" y="300" width="1" height="25" fill="#f23645"/>
<rect x="868" y="304" width="5" height="1" fill="#f23645"/>
<rect x="876" y="305" width="1" height="24" fill="#f23645"/>
<rect x="874" y="305" width="5" height="20" fill="#f23645"/>
<rect x="882" y="322" width="1" height="19" fill="#f23645"/>
<rect x="880" y="324" width="5" height="2" fill="#f23645"/>
<rect x="889" y="318" width="1" height="19" fill="#f23645"/>
<rect x="887" y="326" width="5" height="2" fill="#f23645"/>
<rect x="895" y="327" width="1" height="5" fill="#f23645"/>
<rect x="893" y="328" width="5" height="1" fill="#f23645"/>
<rect x="901" y="324" width="1" height="8" fill="#089981"/>
<rect x="899" y="326" width="5" height="5" fill="#089981"/>
<rect x="907" y="314" width="1" height="19" fill="#089981"/>
<rect x="905" y="325" width="5" height="1" fill="#089981"/>
<rect x="913" y="283" width="1" height="43" fill="#089981"/>
<rect x="911" y="294" width="5" height="31" fill="#089981"/>
<rect x="919" y="270" width="1" height="28" fill="#089981"/>
<rect x="917" y="278" width="5" height="17" fill="#089981"/>
<rect x="925" y="275" width="1" height="17" fill="#f23645"/>
<rect x="923" y="278" width="5" height="10" fill="#f23645"/>
<rect x="931" y="285" width="1" height="11" fill="#089981"/>
<rect x="929" y="286" width="5" height="2" fill="#089981"/>
<rect x="937" y="285" width="1" height="6" fill="#f23645"/>
<rect x="935" y="286" width="5" height="4" fill="#f23645"/>
<rect x="944" y="283" width="1" height="18" fill="#f23645"/>
<rect x="942" y="290" width="5" height="11" fill="#f23645"/>
<rect x="950" y="297" width="1" height="18" fill="#f23645"/>
<rect x="948" y="301" width="5" height="9" fill="#f23645"/>
<rect x="956" y="306" width="1" height="42" fill="#f23645"/>
<rect x="954" y="309" width="5" height="36" fill="#f23645"/>
<rect x="962" y="327" width="1" height="26" fill="#089981"/>
<rect x="960" y="336" width="5" height="9" fill="#089981"/>
<rect x="968" y="329" width="1" height="15" fill="#f23645"/>
<rect x="966" y="336" width="5" height="1" fill="#f23645"/>
<rect x="974" y="321" width="1" height="21" fill="#089981"/>
<rect x="972" y="334" width="5" height="3" fill="#089981"/>
<rect x="980" y="328" width="1" height="9" fill="#f23645"/>
<rect x="978" y="334" width="5" height="3" fill="#f23645"/>
<rect x="986" y="336" width="1" height="28" fill="#f23645"/>
<rect x="984" y="337" width="5" height="22" fill="#f23645"/>
<rect x="992" y="340" width="1" height="19" fill="#089981"/>
<rect x="990" y="344" width="5" height="15" fill="#089981"/>
<rect x="999" y="335" width="1" height="18" fill="#089981"/>
<rect x="997" y="337" width="5" height="7" fill="#089981"/>
<rect x="1005" y="321" width="1" height="19" fill="#089981"/>
<rect x="1003" y="336" width="5" height="1" fill="#089981"/>
<rect x="1011" y="331" width="1" height="53" fill="#f23645"/>
<rect x="1009" y="336" width="5" height="38" fill="#f23645"/>
<rect x="1017" y="372" width="1" height="30" fill="#f23645"/>
<rect x="1015" y="373" width="5" height="3" fill="#f23645"/>
<rect x="1023" y="375" width="1" height="69" fill="#f23645"/>
<rect x="1021" y="376" width="5" height="42" fill="#f23645"/>
<rect x="1029" y="409" width="1" height="34" fill="#f23645"/>
<rect x="1027" y="417" width="5" height="13" fill="#f23645"/>
<rect x="1035" y="412" width="1" height="40" fill="#089981"/>
<rect x="1033" y="421" width="5" height="11" fill="#089981"/>
<rect x="1041" y="417" width="1" height="51" fill="#f23645"/>
<rect x="1039" y="420" width="5" height="25" fill="#f23645"/>
<rect x="1048" y="435" width="1" height="41" fill="#f23645"/>
<rect x="1046" y="444" width="5" height="23" fill="#f23645"/>
<rect x="1054" y="462" width="1" height="92" fill="#f23645"/>
<rect x="1052" y="466" width="5" height="85" fill="#f23645"/>
<rect x="1060" y="475" width="1" height="96" fill="#089981"/>
<rect x="1058" y="485" width="5" height="64" fill="#089981"/>
<rect x="1066" y="476" width="1" height="37" fill="#f23645"/>
<rect x="1064" y="486" width="5" height="12" fill="#f23645"/>
<rect x="1072" y="471" width="1" height="27" fill="#089981"/>
<rect x="1070" y="486" width="5" height="11" fill="#089981"/>
<rect x="1078" y="478" width="1" height="27" fill="#f23645"/>
<rect x="1076" y="486" width="5" height="3" fill="#f23645"/>
<rect x="1084" y="486" width="1" height="22" fill="#f23645"/>
<rect x="1082" y="489" width="5" height="12" fill="#f23645"/>
<rect x="1090" y="497" width="1" height="27" fill="#f23645"/>
<rect x="1088" y="501" width="5" height="14" fill="#f23645"/>
<rect x="1096" y="503" width="1" height="26" fill="#f23645"/>
<rect x="1094" y="514" width="5" height="7" fill="#f23645"/>
<rect x="1103" y="494" width="1" height="30" fill="#089981"/>
<rect x="1101" y="498" width="5" height="24" fill="#089981"/>
<rect x="1109" y="486" width="1" height="13" fill="#089981"/>
<rect x="1107" y="493" width="5" height="6" fill="#089981"/>
<rect x="1115" y="483" width="1" height="21" fill="#f23645"/>
<rect x="1113" y="493" width="5" height="7" fill="#f23645"/>
<rect x="1121" y="489" width="1" height="23" fill="#f23645"/>
<rect x="1119" y="497" width="5" height="1" fill="#f23645"/>
<rect x="1127" y="495" width="1" height="21" fill="#f23645"/>
<rect x="1125" y="498" width="5" height="12" fill="#f23645"/>
<rect x="1133" y="502" width="1" height="19" fill="#f23645"/>
<rect x="1131" y="510" width="5" height="8" fill="#f23645"/>
<rect x="1139" y="511" width="1" height="13" fill="#089981"/>
<rect x="1137" y="513" width="5" height="5" fill="#089981"/>
<rect x="1145" y="501" width="1" height="17" fill="#089981"/>
<rect x="1143" y="503" width="5" height="10" fill="#089981"/>
<rect x="1152" y="500" width="1" height="8" fill="#089981"/>
<rect x="1150" y="504" width="5" height="1" fill="#089981"/>
<rect x="1158" y="501" width="1" height="9" fill="#f23645"/>
<rect x="1156" y="504" width="5" height="5" fill="#f23645"/>
<rect x="1164" y="508" width="1" height="30" fill="#f23645"/>
<rect x="1162" y="508" width="5" height="25" fill="#f23645"/>
<rect x="1170" y="528" width="1" height="22" fill="#f23645"/>
<rect x="1168" y="532" width="5" height="6" fill="#f23645"/>
<rect x="1176" y="492" width="1" height="46" fill="#089981"/>
<rect x="1174" y="508" width="5" height="30" fill="#089981"/>
<rect x="1182" y="498" width="1" height="19" fill="#089981"/>
<rect x="1180" y="506" width="5" height="4" fill="#089981"/>
<rect x="1188" y="502" width="1" height="25" fill="#f23645"/>
<rect x="1186" y="508" width="5" height="12" fill="#f23645"/>
<rect x="1194" y="504" width="1" height="41" fill="#089981"/>
<rect x="1192" y="512" width="5" height="8" fill="#089981"/>
<rect x="1200" y="501" width="1" height="25" fill="#f23645"/>
<rect x="1198" y="512" width="5" height="9" fill="#f23645"/>
<rect x="1207" y="489" width="1" height="37" fill="#089981"/>
<rect x="1205" y="498" width="5" height="25" fill="#089981"/>
<rect x="1213" y="492" width="1" height="26" fill="#f23645"/>
<rect x="1211" y="497" width="5" height="5" fill="#f23645"/>
<rect x="1219" y="454" width="1" height="53" fill="#089981"/>
<rect x="1217" y="467" width="5" height="35" fill="#089981"/>
<rect x="1225" y="457" width="1" height="24" fill="#f23645"/>
<rect x="1223" y="468" width="5" height="10" fill="#f23645"/>
<rect x="1231" y="476" width="1" height="26" fill="#f23645"/>
<rect x="1229" y="479" width="5" height="22" fill="#f23645"/>
<rect x="1237" y="495" width="1" height="15" fill="#f23645"/>
<rect x="1235" y="499" width="5" height="9" fill="#f23645"/>
<rect x="1243" y="500" width="1" height="21" fill="#f23645"/>
<rect x="1241" y="507" width="5" height="11" fill="#f23645"/>
<rect x="1249" y="489" width="1" height="30" fill="#089981"/>
<rect x="1247" y="497" width="5" height="21" fill="#089981"/>
<rect x="1255" y="471" width="1" height="27" fill="#089981"/>
<rect x="1253" y="486" width="5" height="12" fill="#089981"/>
<rect x="1262" y="474" width="1" height="20" fill="#089981"/>
<rect x="1260" y="484" width="5" height="1" fill="#089981"/>
<rect x="1268" y="478" width="1" height="13" fill="#089981"/>
<rect x="1266" y="481" width="5" height="3" fill="#089981"/>
<rect x="1274" y="469" width="1" height="13" fill="#089981"/>
<rect x="1272" y="475" width="5" height="7" fill="#089981"/>
<line x1="0" y1="475.5" x2="1423" y2="475.5" stroke="#3d5f5a" stroke-width="1" stroke-dasharray="1,2"/>
<rect x="0" y="629" width="1507" height="1" fill="#e2e3e7"/>
<rect x="0" y="838" width="1507" height="1" fill="#e2e3e7"/>
<rect x="0" y="676" width="1423" height="90" fill="#2196f3" fill-opacity="0.1"/>
<line x1="0" y1="677.5" x2="1423" y2="677.5" stroke="#787b86" stroke-opacity="1" stroke-width="1" stroke-dasharray="5,6" stroke-dashoffset="3"/>
<line x1="0" y1="721.5" x2="1423" y2="721.5" stroke="#787b86" stroke-opacity="0.5" stroke-width="1" stroke-dasharray="5,6" stroke-dashoffset="3"/>
<line x1="0" y1="766.5" x2="1423" y2="766.5" stroke="#787b86" stroke-opacity="1" stroke-width="1" stroke-dasharray="5,6" stroke-dashoffset="3"/>
<polyline shape-rendering="auto" points="1.7,721.0 7.8,728.5 13.9,753.0 20.0,768.0 26.2,777.7 32.3,767.0 38.4,760.6 44.5,754.2 50.6,768.0 56.7,770.3 62.9,772.4 69.0,758.5 75.1,765.0 81.2,766.0 87.3,777.7 93.4,774.3 99.6,760.3 105.7,740.4 111.8,733.1 117.9,732.5 124.0,736.2 130.1,721.6 136.3,702.2 142.4,688.0 148.5,672.4 154.6,663.4 160.7,651.2 166.8,653.5 172.9,657.9 179.1,662.6 185.2,661.4 191.3,662.8 197.4,660.2 203.5,671.1 209.6,675.8 215.8,685.8 221.9,705.1 228.0,731.1 234.1,748.6 240.2,765.3 246.3,770.7 252.5,780.2 258.6,760.2 264.7,732.8 270.8,708.3 276.9,679.7 283.0,667.3 289.2,655.9 295.3,660.2 301.4,663.6 307.5,662.1 313.6,670.5 319.7,672.0 325.8,679.7 332.0,691.9 338.1,715.2 344.2,724.0 350.3,722.2 356.4,719.0 362.5,731.4 368.7,746.5 374.8,760.3 380.9,766.8 387.0,765.5 393.1,756.1 399.2,753.4 405.4,754.7 411.5,754.2 417.6,739.0 423.7,720.2 429.8,696.8 435.9,685.0 442.1,678.2 448.2,696.0 454.3,719.5 460.4,738.8 466.5,743.5 472.6,737.9 478.7,750.4 484.9,762.3 491.0,769.8 497.1,767.6 503.2,762.5 509.3,766.4 515.4,755.1 521.6,745.7 527.7,740.7 533.8,746.8 539.9,762.0 546.0,776.0 552.1,783.1 558.3,786.3 564.4,785.2 570.5,780.1 576.6,776.6 582.7,778.4 588.8,780.2 595.0,779.0 601.1,768.1 607.2,761.7 613.3,756.2 619.4,746.6 625.5,733.5 631.6,715.8 637.8,705.3 643.9,701.2 650.0,710.9 656.1,701.1 662.2,685.3 668.3,664.2 674.5,677.4 680.6,697.6 686.7,707.2 692.8,701.5 698.9,686.9 705.0,682.1 711.2,676.1 717.3,687.0 723.4,693.6 729.5,712.8 735.6,736.9 741.7,752.8 747.9,768.1 754.0,769.9 760.1,765.2 766.2,750.6 772.3,734.5 778.4,733.7 784.5,737.8 790.7,739.3 796.8,740.6 802.9,730.1 809.0,730.5 815.1,730.1 821.2,741.0 827.4,737.3 833.5,738.7 839.6,731.4 845.7,730.6 851.8,720.3 857.9,707.4 864.1,686.8 870.2,671.8 876.3,679.0 882.4,695.5 888.5,713.2 894.6,716.5 900.8,716.4 906.9,714.7 913.0,698.1 919.1,681.3 925.2,671.3 931.3,674.3 937.4,683.8 943.6,693.7 949.7,711.4 955.8,744.1 961.9,762.0 968.0,773.7 974.1,765.0 980.3,765.6 986.4,772.7 992.5,773.4 998.6,768.5 1004.7,755.7 1010.8,761.0 1017.0,764.2 1023.1,771.5 1029.2,771.7 1035.3,772.3 1041.4,772.8 1047.5,774.8 1053.7,784.5 1059.8,775.2 1065.9,763.5 1072.0,747.3 1078.1,748.2 1084.2,748.8 1090.3,754.1 1096.5,757.7 1102.6,753.3 1108.7,741.2 1114.8,731.6 1120.9,726.5 1127.0,727.9 1133.2,726.1 1139.3,720.9 1145.4,721.2 1151.5,723.7 1157.6,732.5 1163.7,749.9 1169.9,762.4 1176.0,751.5 1182.1,723.9 1188.2,710.4 1194.3,713.3 1200.4,722.1 1206.6,702.4 1212.7,691.3 1218.8,672.2 1224.9,677.5 1231.0,691.7 1237.1,712.6 1243.2,732.7 1249.4,730.5 1255.5,719.9 1261.6,703.7 1267.7,696.4 1273.8,690.7" fill="none" stroke="#ff6d00" stroke-width="1"/>
<polyline shape-rendering="auto" points="1.7,721.0 7.8,743.5 13.9,780.0 20.0,771.3 26.2,780.0 32.3,743.5 38.4,755.3 44.5,760.6 50.6,780.0 56.7,766.0 62.9,770.3 69.0,739.2 75.1,782.0 81.2,776.8 87.3,783.8 93.4,762.3 99.6,734.8 105.7,724.1 111.8,740.3 117.9,733.1 124.0,735.1 130.1,696.6 136.3,674.8 142.4,692.7 148.5,649.6 154.6,648.0 160.7,655.9 166.8,656.5 172.9,661.2 179.1,670.0 185.2,653.0 191.3,665.4 197.4,662.3 203.5,685.5 209.6,679.7 215.8,692.2 221.9,743.5 228.0,757.7 234.1,744.6 240.2,793.6 246.3,774.0 252.5,772.9 258.6,733.6 264.7,692.0 270.8,699.2 276.9,648.0 283.0,654.7 289.2,665.0 295.3,660.8 301.4,665.1 307.5,660.3 313.6,686.2 319.7,669.5 325.8,683.5 332.0,722.8 338.1,739.3 344.2,709.8 350.3,717.6 356.4,729.6 362.5,747.0 368.7,762.8 374.8,771.2 380.9,766.4 387.0,759.0 393.1,742.9 399.2,758.2 405.4,763.1 411.5,741.4 417.6,712.5 423.7,706.7 429.8,671.3 435.9,676.9 442.1,686.4 448.2,724.5 454.3,747.5 460.4,744.3 466.5,738.7 472.6,730.6 478.7,782.0 484.9,774.5 491.0,752.9 497.1,775.5 503.2,759.1 509.3,764.5 515.4,741.5 521.6,731.0 527.7,749.7 533.8,759.6 539.9,776.6 546.0,791.8 552.1,780.9 558.3,786.2 564.4,788.3 570.5,765.8 576.6,775.6 582.7,793.6 588.8,771.4 595.0,771.9 601.1,760.9 607.2,752.2 613.3,755.6 619.4,731.9 625.5,713.1 631.6,702.5 637.8,700.2 643.9,700.9 650.0,731.6 656.1,670.7 662.2,653.6 668.3,668.4 674.5,710.2 680.6,714.0 686.7,697.4 692.8,693.2 698.9,670.0 705.0,683.0 711.2,675.3 717.3,702.7 723.4,702.7 729.5,732.9 735.6,775.2 741.7,750.4 747.9,778.6 754.0,780.8 760.1,736.2 766.2,734.9 772.3,732.4 778.4,733.8 784.5,747.2 790.7,736.8 796.8,737.8 802.9,715.6 809.0,738.1 815.1,736.6 821.2,748.4 827.4,726.8 833.5,740.9 839.6,726.5 845.7,724.5 851.8,709.7 857.9,687.8 864.1,662.9 870.2,664.6 876.3,709.3 882.4,712.6 888.5,717.7 894.6,719.2 900.8,712.3 906.9,712.5 913.0,669.6 919.1,661.8 925.2,682.5 931.3,678.5 937.4,690.6 943.6,712.1 949.7,731.5 955.8,788.6 961.9,765.9 968.0,766.6 974.1,762.4 980.3,767.7 986.4,788.0 992.5,764.6 998.6,753.1 1004.7,749.4 1010.8,780.6 1017.0,762.8 1023.1,771.3 1029.2,781.1 1035.3,764.5 1041.4,772.7 1047.5,787.3 1053.7,793.6 1059.8,744.6 1065.9,752.1 1072.0,745.0 1078.1,747.3 1084.2,754.0 1090.3,760.8 1096.5,758.4 1102.6,740.8 1108.7,724.6 1114.8,729.6 1120.9,725.2 1127.0,728.8 1133.2,724.3 1139.3,709.7 1145.4,729.5 1151.5,732.0 1157.6,735.9 1163.7,781.9 1169.9,769.5 1176.0,703.1 1182.1,699.1 1188.2,729.0 1194.3,711.7 1200.4,725.7 1206.6,669.8 1212.7,678.3 1218.8,668.6 1224.9,685.6 1231.0,720.8 1237.1,731.3 1243.2,746.0 1249.4,714.2 1255.5,699.4 1261.6,697.4 1267.7,692.4 1273.8,682.3" fill="none" stroke="#2962ff" stroke-width="1"/>
</g>
<g shape-rendering="auto">
<text x="1432.3" y="51.9" font-size="12.4" fill="#131722" textLength="69.3" lengthAdjust="spacingAndGlyphs">5.400.000,00</text>
<text x="1432.3" y="89.6" font-size="12.4" fill="#131722" textLength="69.3" lengthAdjust="spacingAndGlyphs">5.200.000,00</text>
<text x="1432.3" y="127.2" font-size="12.4" fill="#131722" textLength="69.3" lengthAdjust="spacingAndGlyphs">5.000.000,00</text>
<text x="1432.3" y="164.9" font-size="12.4" fill="#131722" textLength="69.3" lengthAdjust="spacingAndGlyphs">4.800.000,00</text>
<text x="1432.3" y="202.6" font-size="12.4" fill="#131722" textLength="69.3" lengthAdjust="spacingAndGlyphs">4.600.000,00</text>
<text x="1432.3" y="240.3" font-size="12.4" fill="#131722" textLength="69.3" lengthAdjust="spacingAndGlyphs">4.400.000,00</text>
<text x="1432.3" y="277.9" font-size="12.4" fill="#131722" textLength="69.3" lengthAdjust="spacingAndGlyphs">4.200.000,00</text>
<text x="1432.3" y="315.6" font-size="12.4" fill="#131722" textLength="69.3" lengthAdjust="spacingAndGlyphs">4.000.000,00</text>
<text x="1432.3" y="353.3" font-size="12.4" fill="#131722" textLength="69.3" lengthAdjust="spacingAndGlyphs">3.800.000,00</text>
<text x="1432.3" y="390.9" font-size="12.4" fill="#131722" textLength="69.3" lengthAdjust="spacingAndGlyphs">3.600.000,00</text>
<text x="1432.3" y="428.6" font-size="12.4" fill="#131722" textLength="69.3" lengthAdjust="spacingAndGlyphs">3.400.000,00</text>
<text x="1432.3" y="617.0" font-size="12.4" fill="#131722" textLength="69.3" lengthAdjust="spacingAndGlyphs">2.400.000,00</text>
<rect x="1424" y="433" width="83" height="17" rx="2" fill="#f23645"/>
<text x="1432" y="445.3" font-size="12" fill="#fff" stroke="#fff" stroke-width="0.35">3.188.688,92</text>
<rect x="1424" y="450" width="83" height="17" rx="2" fill="#3179f5"/>
<text x="1432" y="462.3" font-size="12" fill="#fff" stroke="#fff" stroke-width="0.35">3.175.000,00</text>
<rect x="1424" y="467" width="83" height="30.5" rx="2" fill="#089981"/>
<text x="1432" y="479.3" font-size="12" fill="#fff" stroke="#fff" stroke-width="0.35">3.135.109,00</text>
<text x="1432" y="493.2" font-size="12" fill="#fff" fill-opacity="0.8" stroke="#fff" stroke-opacity="0.8" stroke-width="0.35">17:11:08</text>
<rect x="1424" y="497.5" width="83" height="17" rx="2" fill="#3a76ee"/>
<text x="1432" y="509.8" font-size="12" fill="#fff" stroke="#fff" stroke-width="0.35">3.085.000,00</text>
<rect x="1424" y="514.5" width="83" height="17" rx="2" fill="#1e3fbf"/>
<text x="1432" y="526.8" font-size="12" fill="#fff" stroke="#fff" stroke-width="0.35">3.000.000,00</text>
<rect x="1424" y="531" width="83" height="17" rx="2" fill="#2962ff"/>
<text x="1432" y="543.3" font-size="12" fill="#fff" stroke="#fff" stroke-width="0.35">2.993.887,46</text>
<rect x="1424" y="547.5" width="83" height="17" rx="2" fill="#1e3fbf"/>
<text x="1432" y="559.8" font-size="12" fill="#fff" stroke="#fff" stroke-width="0.35">2.870.000,00</text>
<rect x="1424" y="564.5" width="83" height="17.5" rx="2" fill="#089981"/>
<text x="1432" y="576.8" font-size="12" fill="#fff" stroke="#fff" stroke-width="0.35">2.799.085,99</text>
<text x="1432.3" y="651.1" font-size="12.4" fill="#131722" textLength="36.2" lengthAdjust="spacingAndGlyphs">100,00</text>
<text x="1432.3" y="725.0" font-size="12.4" fill="#131722" textLength="29.6" lengthAdjust="spacingAndGlyphs">50,00</text>
<text x="1432.3" y="761.9" font-size="12.4" fill="#131722" textLength="29.6" lengthAdjust="spacingAndGlyphs">25,00</text>
<text x="1432.3" y="798.9" font-size="12.4" fill="#131722" textLength="23.0" lengthAdjust="spacingAndGlyphs">0,00</text>
<rect x="1424" y="674" width="43" height="16.5" rx="2" fill="#2962ff"/>
<text x="1432" y="686" font-size="12" fill="#fff" stroke="#fff" stroke-width="0.35">76,33</text>
<rect x="1424" y="691.5" width="43" height="16.5" rx="2" fill="#ff6d00"/>
<text x="1432" y="703.5" font-size="12" fill="#fff" stroke="#fff" stroke-width="0.35">71,24</text>
<text x="93.9" y="828.3" font-size="12" fill="#131722" text-anchor="middle">Eyl</text>
<text x="277.4" y="828.3" font-size="12" fill="#131722" text-anchor="middle">Eki</text>
<text x="467.0" y="828.3" font-size="12" fill="#131722" text-anchor="middle">Kas</text>
<text x="650.5" y="828.3" font-size="12" fill="#131722" text-anchor="middle">Ara</text>
<text x="840.1" y="828.3" font-size="12" fill="#131722" text-anchor="middle" font-weight="bold">2026</text>
<text x="1029.7" y="828.3" font-size="12" fill="#131722" text-anchor="middle">Şub</text>
<text x="1200.9" y="828.3" font-size="12" fill="#131722" text-anchor="middle">Mar</text>
<text x="1390.5" y="828.3" font-size="12" fill="#131722" text-anchor="middle">Nis</text>
<polygon points="1474.20,824.40 1470.85,830.20 1464.15,830.20 1460.80,824.40 1464.15,818.60 1470.85,818.60" fill="none" stroke="#131722" stroke-width="1.2"/>
<circle cx="1467.5" cy="824.4" r="2.1" fill="none" stroke="#131722" stroke-width="1.2"/>
<rect x="4" y="3" width="786" height="26" fill="#fff" fill-opacity="0.75"/>
<rect x="4" y="31" width="354" height="16.5" fill="#fff" fill-opacity="0.75"/>
<rect x="3" y="637" width="173.6" height="21" fill="#fff" fill-opacity="0.7"/>
<circle cx="15" cy="16" r="9" fill="#f7931a"/>
<text x="15" y="20" font-size="11" font-weight="bold" fill="#fff" text-anchor="middle" transform="rotate(12 15 16)">₿</text>
<text x="28.7" y="21.8" font-size="15.3" fill="#131722" textLength="244.8" lengthAdjust="spacingAndGlyphs">Bitcoin / Türk lirası · 1G · WhiteBIT</text>
<circle cx="292.9" cy="15.8" r="8.6" fill="#089981" fill-opacity="0.11"/>
<circle cx="292.9" cy="15.8" r="4.1" fill="#089981"/>
<text x="310" y="21" font-size="13" fill="#131722">A<tspan fill="#089981">3.106.141,90</tspan></text>
<text x="400.3" y="21" font-size="13" fill="#131722">Y<tspan fill="#089981">3.172.158,00</tspan></text>
<text x="490.3" y="21" font-size="13" fill="#131722">D<tspan fill="#089981">3.104.133,26</tspan></text>
<text x="581.5" y="21" font-size="13" fill="#131722">K<tspan fill="#089981">3.135.109,00</tspan></text>
<text x="671.8" y="21" font-size="13" fill="#089981" textLength="115.5" lengthAdjust="spacingAndGlyphs">+28.220,59 (+0,91%)</text>
<text x="6.6" y="45.1" font-size="13" fill="#131722" textLength="14" lengthAdjust="spacingAndGlyphs">BB</text>
<text x="24.4" y="45.1" font-size="13" fill="#787b86" textLength="84.4" lengthAdjust="spacingAndGlyphs">20 SMA close 2</text>
<text x="117.4" y="45.1" font-size="13" fill="#2962ff" textLength="75" lengthAdjust="spacingAndGlyphs">2.993.887,46</text>
<text x="198.8" y="45.1" font-size="13" fill="#f23645" textLength="75.5" lengthAdjust="spacingAndGlyphs">3.188.688,92</text>
<text x="280.6" y="45.1" font-size="13" fill="#089981" textLength="75.5" lengthAdjust="spacingAndGlyphs">2.799.085,99</text>
<rect x="6.9" y="55.6" width="27.2" height="19.8" rx="3.5" fill="#fff" stroke="#dadbdd"/>
<polyline points="16.6,67.4 20.5,63.5 24.4,67.4" fill="none" stroke="#000" stroke-width="1.35"/>
<rect x="1427.5" y="4.5" width="78.5" height="25" rx="4" fill="#fff" stroke="#e6e7ea"/>
<text x="1431.2" y="20.9" font-size="12.8" fill="#131722" textLength="19.8" lengthAdjust="spacingAndGlyphs">TRY</text>
<polyline points="1497.1,16.4 1499.5,18.7 1501.9,16.4" fill="none" stroke="#131722" stroke-width="1.1"/>
<text x="6" y="651" font-size="13" fill="#131722">Stokastik <tspan fill="#787b86">14 1 3</tspan></text>
<text x="105" y="651" font-size="13" fill="#2962ff">76,33</text>
<text x="143" y="651" font-size="13" fill="#ff6d00">71,24</text>
<circle cx="1274.5" cy="616.3" r="9.8" fill="#fff" stroke="#8e24aa" stroke-width="1.4"/>
<path d="M1277.9,610.9 L1270.1,616.9 L1274.5,616.9 L1271.0,622.0 L1278.8,616.0 L1274.3,616.0 Z" fill="#8e24aa"/>
<rect x="1311.5" y="634.5" width="22.8" height="22.5" rx="4" fill="#fff" fill-opacity="0.7" stroke="#eceef2"/>
<rect x="1339.6" y="634.5" width="22.8" height="22.5" rx="4" fill="#fff" fill-opacity="0.7" stroke="#eceef2"/>
<rect x="1367.7" y="634.5" width="22.8" height="22.5" rx="4" fill="#fff" fill-opacity="0.7" stroke="#eceef2"/>
<rect x="1395.7" y="634.5" width="22.8" height="22.5" rx="4" fill="#fff" fill-opacity="0.7" stroke="#eceef2"/>
<path d="M1323.5,651 V641.6 M1319.3,645.8 L1323.5,641.6 L1327.7,645.8" fill="none" stroke="#50535e" stroke-width="1.2"/>
<path d="M1346.2,642.3 H1356.8 M1349.3,642.3 V640.4 H1353.7 V642.3 M1347.4,642.6 L1348.5,652.2 H1354.5 L1355.6,642.6" fill="none" stroke="#50535e" stroke-width="1.1"/>
<path d="M1376.1,641.2 L1379.5,644.4 L1382.9,641.2 M1376.1,651.9 L1379.5,648.9 L1382.9,651.9" fill="none" stroke="#50535e" stroke-width="1.1"/>
<path d="M1402.6,645.2 V644 Q1402.6,641.6 1405,641.6 H1410 Q1412.4,641.6 1412.4,644 V645.2 M1402.6,647.8 V649 Q1402.6,651.3 1405,651.3 H1410 Q1412.4,651.3 1412.4,649 V647.8" fill="none" stroke="#50535e" stroke-width="1.2"/>
<rect x="8" y="781" width="160" height="21" fill="#fff" fill-opacity="0.92"/>
<g fill="#000"><path d="M9.1,781.1 H20.9 V795.7 H15.1 V786.7 H9.1 Z"/><circle cx="26" cy="783.8" r="2.8"/><path d="M32.6,781.1 H38.7 L32.9,795.7 H26.2 Z"/></g>
<text x="45.6" y="795.7" font-size="21.2" font-weight="bold" fill="#000" textLength="120.5" lengthAdjust="spacingAndGlyphs">TradingView</text>
</g>
</svg>
</body></html>
